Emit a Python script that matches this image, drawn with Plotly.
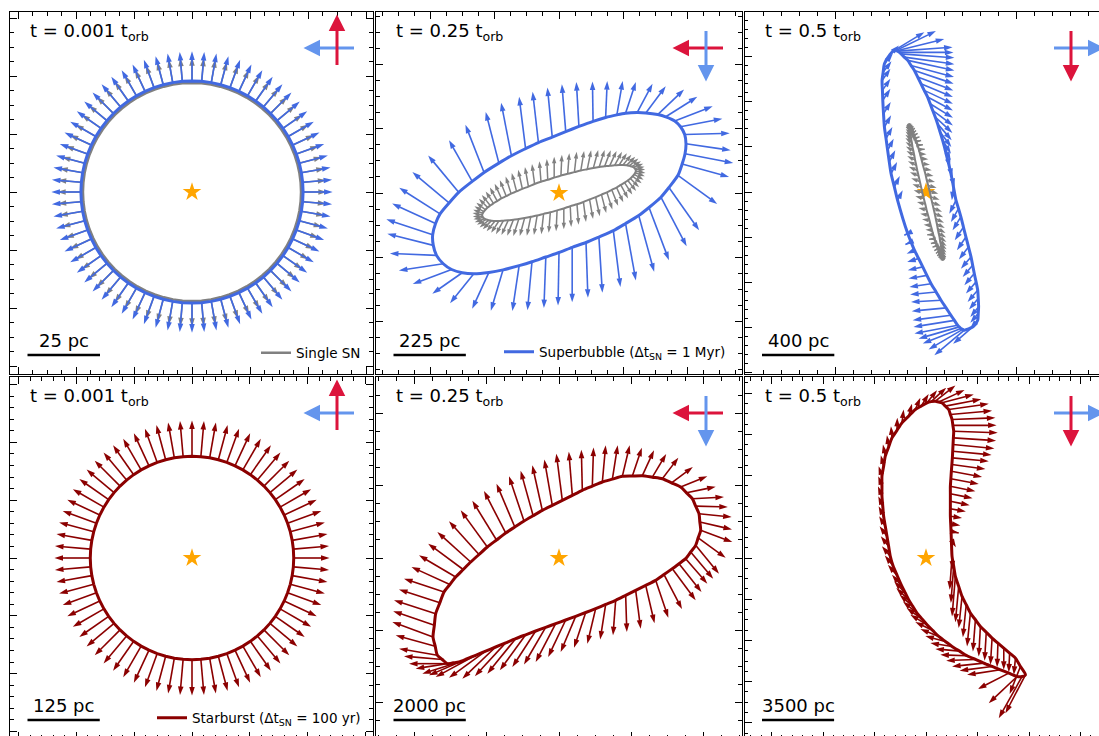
import numpy as np
import plotly.graph_objects as go

# ---------------- data (pc, origin at the star) ----------------
# t = 0.001 t_orb : rings are still circular, arrows purely radial
ring_arrow_count = 72
sb_early_radius, sb_early_tip = 38.3, 48.5      # superbubble (top row)
sn_early_radius, sn_early_tip = 37.6, 46.5      # single SN (top row)
st_early_radius, st_early_tip = 176.0, 238.0    # starburst (bottom row)

# t = 0.25 t_orb, superbubble: shell points and arrow tips
sb_mid_x = [395, 391, 378, 360, 332, 307, 270, 243, 207, 180, 145, 106, 62, 21, -21, -64,
            -104, -148, -187, -233, -270, -312, -342, -370, -384, -393, -391, -381, -360,
            -334, -301, -265, -218, -174, -124, -84, -41, 0, 41, 84, 124, 169, 207, 248,
            280, 317, 342, 370, 383, 392]
sb_mid_y = [153, 182, 206, 224, 237, 244, 249, 250, 248, 243, 235, 223, 207, 191, 174, 157,
            138, 116, 93, 64, 36, 2, -31, -65, -95, -130, -163, -194, -220, -238, -248,
            -251, -247, -239, -226, -214, -199, -185, -169, -154, -137, -117, -95, -70, -45,
            -13, 17, 55, 90, 122]
sb_mid_tx = [534, 531, 508, 478, 430, 389, 332, 291, 239, 198, 150, 104, 54, 9, -36, -82,
             -124, -180, -228, -291, -342, -407, -456, -497, -519, -537, -534, -526, -498,
             -455, -394, -339, -270, -212, -145, -98, -47, -3, 41, 90, 135, 191, 239, 296,
             342, 397, 436, 492, 529, 542]
sb_mid_ty = [133, 186, 231, 270, 299, 322, 332, 340, 345, 348, 348, 347, 345, 338, 328, 315,
             299, 281, 252, 212, 164, 117, 65, 16, -33, -82, -127, -188, -241, -283, -313,
             -343, -360, -366, -367, -365, -358, -350, -340, -326, -310, -292, -272, -245,
             -209, -166, -116, -34, 50, 93]

# t = 0.25 t_orb, single SN
sn_mid_x = [238, 236, 232, 226, 219, 210, 199, 187, 173, 158, 142, 125, 107, 88, 68, 48, 27,
            6, -15, -35, -56, -76, -95, -114, -132, -149, -164, -179, -192, -204, -214,
            -222, -229, -234, -237, -239, -238, -236, -232, -226, -219, -210, -199, -187,
            -173, -158, -142, -125, -107, -88, -68, -48, -27, -6, 15, 35, 56, 76, 95, 114,
            132, 149, 164, 179, 192, 204, 214, 222, 229, 234, 237, 239]
sn_mid_y = [73, 76, 80, 82, 85, 86, 87, 87, 86, 85, 83, 81, 78, 74, 70, 65, 60, 54, 48, 41,
            35, 28, 20, 13, 5, -2, -10, -17, -25, -32, -39, -45, -52, -58, -63, -68, -73,
            -76, -80, -82, -85, -86, -87, -87, -86, -85, -83, -81, -78, -74, -70, -65, -60,
            -54, -48, -41, -35, -28, -20, -13, -5, 2, 10, 17, 25, 32, 39, 45, 52, 58, 63, 68]
sn_mid_tx = [268, 266, 262, 255, 247, 237, 225, 211, 196, 179, 161, 142, 122, 100, 78, 55,
             32, 9, -15, -38, -61, -84, -106, -127, -147, -166, -184, -200, -215, -228, -240,
             -249, -257, -263, -267, -269, -268, -266, -262, -255, -247, -237, -225, -211,
             -196, -179, -161, -142, -122, -100, -78, -55, -32, -9, 15, 38, 61, 84, 106, 127,
             147, 166, 184, 200, 215, 228, 240, 249, 257, 263, 267, 269]
sn_mid_ty = [73, 82, 91, 99, 107, 113, 119, 124, 128, 131, 133, 134, 134, 133, 131, 128, 124,
             119, 113, 106, 99, 90, 81, 72, 62, 51, 40, 29, 17, 5, -6, -18, -30, -41, -52,
             -62, -73, -82, -91, -99, -107, -113, -119, -124, -128, -131, -133, -134, -134,
             -133, -131, -128, -124, -119, -113, -106, -99, -90, -81, -72, -62, -51, -40,
             -29, -17, -5, 6, 18, 30, 41, 52, 62]

# t = 0.5 t_orb, superbubble
sb_late_x = [-175, -166, -161, -157, -147, -138, -120, -101, -83, -64, -46, -28, -10, 9, 23,
             37, 51, 64, 78, 92, 102, 111, 125, 138, 152, 166, 180, 193, 207, 221, 235, 249,
             258, 267, 277, 286, 289, 291, 289, 286, 260, 212, 203, 193, 184, 175, 157, 138,
             111, 83, 56, 28, 5, -18, -41, -64, -83, -101, -157, -175, -193, -203, -212,
             -221, -230, -235, -239, -241, -243, -237, -230, -200]
sb_late_y = [783, 783, 781, 779, 772, 764, 746, 728, 700, 672, 636, 599, 562, 525, 488, 451,
             415, 378, 332, 286, 249, 212, 157, 101, 28, -46, -92, -138, -194, -249, -304,
             -359, -405, -451, -497, -543, -589, -635, -672, -709, -745, -764, -760, -755,
             -746, -737, -710, -682, -641, -599, -553, -507, -461, -414, -368, -322, -276,
             -230, -46, 28, 101, 166, 230, 295, 359, 433, 507, 562, 617, 663, 709, 760]
sb_late_tx = [-9, 55, 101, 147, 152, 157, 157, 157, 155, 153, 151, 149, 149, 149, 149, 149,
              146, 142, 140, 138, 136, 134, 146, 157, 143, 129, 138, 147, 159, 171, 182, 193,
              203, 212, 221, 230, 238, 245, 245, 245, 150, 46, 14, -18, -41, -64, -69, -74,
              -79, -83, -88, -92, -97, -101, -104, -107, -114, -120, -129, -145, -160, -170,
              -179, -186, -193, -195, -197, -197, -197, -191, -184, -150]
sb_late_ty = [884, 890, 846, 801, 772, 742, 707, 672, 636, 599, 562, 525, 488, 451, 410, 368,
              327, 286, 249, 212, 175, 138, 83, 28, -46, -120, -166, -212, -267, -322, -373,
              -424, -470, -516, -562, -608, -650, -691, -723, -755, -840, -903, -871, -838,
              -811, -783, -746, -709, -659, -608, -567, -525, -479, -433, -387, -341, -290,
              -239, 9, 88, 166, 231, 295, 360, 424, 498, 571, 627, 682, 723, 764, 810]

# t = 0.5 t_orb, single SN
sn_late_x = [-86, -84, -81, -78, -74, -70, -65, -59, -53, -47, -40, -33, -26, -19, -11, -3,
             4, 12, 20, 27, 34, 41, 48, 54, 60, 65, 70, 75, 78, 82, 84, 86, 87, 88, 88, 87,
             86, 84, 81, 78, 74, 70, 65, 59, 53, 47, 40, 33, 26, 19, 11, 3, -4, -12, -20,
             -27, -34, -41, -48, -54, -60, -65, -70, -75, -78, -82, -84, -86, -87, -88, -88,
             -87]
sn_late_y = [360, 359, 355, 349, 340, 328, 314, 297, 279, 258, 235, 210, 184, 156, 127, 98,
             67, 36, 5, -27, -58, -89, -119, -148, -176, -203, -228, -251, -273, -292, -310,
             -324, -337, -347, -354, -358, -360, -359, -355, -349, -340, -328, -314, -297,
             -279, -258, -235, -210, -184, -156, -127, -98, -67, -36, -5, 27, 58, 89, 119,
             148, 176, 203, 228, 251, 273, 292, 310, 324, 337, 347, 354, 358]
sn_late_tx = [-92, -86, -79, -71, -63, -55, -46, -36, -27, -17, -7, 3, 13, 22, 32, 42, 50,
              59, 68, 75, 82, 89, 95, 100, 104, 108, 111, 113, 114, 114, 113, 112, 109, 106,
              102, 97, 92, 86, 79, 71, 63, 55, 46, 36, 27, 17, 7, -3, -13, -22, -32, -42,
              -50, -59, -68, -75, -82, -89, -95, -100, -104, -108, -111, -113, -114, -114,
              -113, -112, -109, -106, -102, -97]
sn_late_ty = [380, 378, 372, 364, 354, 340, 324, 305, 285, 261, 236, 209, 181, 151, 120, 89,
              56, 23, -10, -43, -76, -109, -140, -170, -199, -227, -252, -276, -298, -317,
              -335, -349, -361, -370, -376, -379, -380, -378, -372, -364, -354, -340, -324,
              -305, -285, -261, -236, -209, -181, -151, -120, -89, -56, -23, 10, 43, 76, 109,
              140, 170, 199, 227, 252, 276, 298, 317, 335, 349, 361, 370, 376, 379]

# t = 0.25 t_orb, starburst
st_mid_x = [-3485, -3448, -3411, -3296, -3181, -3020, -2858, -2650, -2443, -2213, -1982,
            -1729, -1475, -1222, -968, -715, -461, -185, 92, 369, 645, 922, 1199, 1476, 1752,
            2029, 2305, 2582, 2858, 3112, 3365, 3527, 3688, 3780, 3872, 3896, 3919, 3850,
            3780, 3642, 3504, 3320, 3135, 2905, 2674, 2398, 2121, 1844, 1567, 1291, 1014,
            738, 461, 185, -92, -369, -645, -922, -1199, -1476, -1752, -2029, -2305, -2536,
            -2766, -2928, -3089, -3227, -3365, -3425]
st_mid_y = [-2185, -1862, -1540, -1240, -940, -733, -526, -318, -111, 97, 304, 498, 692, 858,
            1023, 1171, 1318, 1457, 1595, 1734, 1872, 1987, 2102, 2181, 2259, 2268, 2277,
            2236, 2194, 2079, 1964, 1803, 1641, 1434, 1226, 996, 765, 558, 350, 166, -18,
            -157, -295, -457, -618, -756, -894, -1033, -1171, -1286, -1401, -1508, -1614,
            -1715, -1816, -1918, -2019, -2125, -2231, -2347, -2462, -2577, -2692, -2785,
            -2877, -2900, -2923, -2808, -2692, -2439]
st_mid_tx = [-4610, -4587, -4564, -4426, -4287, -4080, -3872, -3619, -3365, -3043, -2720,
             -2398, -2075, -1729, -1383, -1061, -738, -406, -74, 272, 618, 955, 1291, 1623,
             1955, 2292, 2628, 2965, 3301, 3702, 4103, 4334, 4564, 4670, 4776, 4785, 4794,
             4610, 4426, 4265, 4103, 3942, 3780, 3402, 3024, 2642, 2259, 1877, 1494, 1139,
             784, 415, 46, -300, -645, -968, -1291, -1637, -1982, -2328, -2674, -3043, -3411,
             -3596, -3780, -3965, -4149, -4288, -4426, -4518]
st_mid_ty = [-1770, -1470, -1171, -872, -572, -249, 74, 397, 719, 1019, 1318, 1586, 1853,
             2056, 2259, 2411, 2563, 2725, 2886, 2942, 2997, 3057, 3116, 3116, 3116, 3047,
             2978, 2877, 2775, 2517, 2259, 1973, 1687, 1411, 1134, 789, 443, 5, -433, -572,
             -710, -941, -1171, -1411, -1650, -1803, -1955, -2047, -2139, -2255, -2370, -2485,
             -2600, -2739, -2877, -2946, -3015, -3107, -3199, -3269, -3338, -3315, -3292,
             -3246, -3199, -3061, -2923, -2716, -2508, -2139]

# t = 0.5 t_orb, starburst
st_late_x = [454, 616, 778, 940, 1102, 1183, 1264, 1305, 1345, 1329, 1312, 1296, 1280, 1256,
             1231, 1207, 1183, 1183, 1183, 1183, 1183, 1199, 1215, 1230, 1245, 1264, 1345,
             1426, 1588, 1750, 1953, 2155, 2398, 2641, 2925, 3208, 3492, 3775, 4059, 4342,
             4585, 4828, 4666, 4423, 4018, 3613, 3208, 2803, 2398, 1993, 1629, 1264, 940, 616,
             333, 49, -194, -437, -640, -842, -1004, -1166, -1400, -1600, -1733, -1814, -1895,
             -1976, -2057, -2098, -2138, -2138, -2138, -2057, -1976, -1814, -1652, -1409,
             -1166, -842, -518, -235, 49, 250]
st_late_y = [7614, 7574, 7533, 7371, 7209, 6966, 6723, 6440, 6156, 5832, 5508, 5184, 4860,
             4536, 4212, 3848, 3483, 3119, 2754, 2390, 2025, 1661, 1296, 890, 480, 81, -405,
             -891, -1377, -1863, -2268, -2673, -2997, -3321, -3605, -3888, -4131, -4374,
             -4617, -4860, -5265, -5670, -5751, -5751, -5589, -5427, -5265, -5103, -4925,
             -4747, -4520, -4293, -4050, -3807, -3524, -3240, -2957, -2673, -2349, -2025,
             -1701, -1377, -850, -380, 81, 567, 1053, 1539, 2025, 2511, 2997, 3483, 3969,
             4455, 4941, 5387, 5832, 6197, 6561, 6885, 7209, 7371, 7533, 7590]
st_late_tx = [1426, 1872, 2317, 2682, 3046, 3208, 3370, 3427, 3483, 3402, 3321, 3184, 3046,
              2884, 2722, 2560, 2398, 2260, 2122, 1936, 1750, 1669, 1588, 1450, 1300, 1150,
              1207, 1264, 1426, 1588, 1791, 1993, 2277, 2560, 2844, 3127, 3451, 3775, 4018,
              4261, 4059, 3856, 3532, 3046, 2520, 1993, 1629, 1264, 981, 697, 454, 211, -32,
              -275, -518, -761, -940, -1118, -1280, -1442, -1547, -1652, -1850, -2000, -2138,
              -2195, -2252, -2276, -2300, -2317, -2333, -2317, -2300, -2195, -2090, -1896,
              -1701, -1393, -1085, -680, -275, 130, 535, 980]
st_late_ty = [8375, 8157, 7938, 7711, 7484, 7144, 6804, 6440, 6075, 5695, 5314, 5006, 4698,
              4318, 3937, 3589, 3240, 2900, 2560, 2252, 1944, 1580, 1215, 520, -560, -1539,
              -2187, -2835, -3119, -3402, -3848, -4293, -4536, -4779, -4982, -5184, -5306,
              -5427, -5549, -5670, -6602, -7533, -7776, -7047, -6359, -5670, -5468, -5265,
              -4982, -4698, -4415, -4131, -3791, -3451, -3103, -2754, -2430, -2106, -1782,
              -1458, -1134, -810, -330, 120, 567, 1053, 1539, 2025, 2511, 2997, 3483, 3969,
              4455, 4982, 5508, 5954, 6399, 6804, 7209, 7493, 7776, 7963, 8149, 8270]

time_labels = ["0.001", "0.25", "0.5", "0.001", "0.25", "0.5"]
scale_bars_pc = [25, 225, 400, 125, 2000, 3500]

# ---------------- styling / layout geometry ----------------
BLUE, GRAY, RED = "royalblue", "gray", "darkred"
CRIMSON, CORN = "crimson", "cornflowerblue"
FONT = "DejaVu Sans"
W, H = 1108, 740
COLS = [(10, 373), (376, 742), (744.5, 1107)]
ROWS = [(12, 374), (377, 739)]
STAR_PX = [[(192, 192), (559, 193), (926, 192)], [(192, 558), (559, 558), (926, 558)]]
PX_PER_PC = [[2.9, 0.3215, 0.1808], [0.578, 0.03615, 0.0206]]
TICKS = [[((20, 5), (20, 5)), ((200, 50), (200, 50)), ((500, 100), (250, 50))],
         [((100, 20), (100, 20)), ((2000, 500), (2000, 500)), ((2500, 500), (2000, 500))]]
# corner direction arrows: (direction, colour); the second one is drawn on top
CORNER = [[("left", CORN), ("up", CRIMSON)], [("left", CRIMSON), ("down", CORN)],
          [("right", CORN), ("down", CRIMSON)]]
DIRS = {"left": (-1, 0), "right": (1, 0), "up": (0, -1), "down": (0, 1)}


def ax_names(n):
    return ("x" if n == 1 else f"x{n}"), ("y" if n == 1 else f"y{n}")


def arrows(bx, by, tx, ty, color, n, width=1.6, head=9):
    xa, ya = ax_names(n)
    xs, ys, sz = [], [], []
    for a, b, c, d in zip(bx, by, tx, ty):
        xs += [a, c, None]
        ys += [b, d, None]
        sz += [0, head, 0]
    return go.Scatter(x=xs, y=ys, mode="lines+markers", xaxis=xa, yaxis=ya, opacity=1,
                      line=dict(color=color, width=width),
                      marker=dict(symbol="arrow", angleref="previous", size=sz, color=color,
                                  opacity=1, line=dict(width=0)),
                      showlegend=False, hoverinfo="skip")


def outline(x, y, color, width, n, name=None, legend=None, smooth=True):
    xa, ya = ax_names(n)
    x = list(x) + [x[0]]
    y = list(y) + [y[0]]
    return go.Scatter(x=x, y=y, mode="lines", xaxis=xa, yaxis=ya,
                      line=dict(color=color, width=width,
                                shape="spline" if smooth else "linear", smoothing=0.7),
                      name=name, showlegend=name is not None, legend=legend,
                      hoverinfo="skip")


def ring(radius, tip):
    ang = np.deg2rad(np.arange(ring_arrow_count) * 360.0 / ring_arrow_count)
    return (radius * np.cos(ang), radius * np.sin(ang), tip * np.cos(ang), tip * np.sin(ang))


def star(n):
    xa, ya = ax_names(n)
    return go.Scatter(x=[0], y=[0], mode="markers", xaxis=xa, yaxis=ya,
                      marker=dict(symbol="star", size=14, color="orange", line=dict(width=0)),
                      showlegend=False, hoverinfo="skip")


fig = go.Figure()

# panel 1: t = 0.001, superbubble over single SN
fig.add_trace(star(1))
gx, gy, gtx, gty = ring(sn_early_radius, sn_early_tip)
fig.add_trace(arrows(gx, gy, gtx, gty, GRAY, 1))
fig.add_trace(outline(gx, gy, GRAY, 2.5, 1, name="Single SN", legend="legend", smooth=False))
bx, by, btx, bty = ring(sb_early_radius, sb_early_tip)
fig.add_trace(arrows(bx, by, btx, bty, BLUE, 1))
fig.add_trace(outline(bx, by, BLUE, 3, 1, smooth=False))

# panel 2: t = 0.25
fig.add_trace(star(2))
fig.add_trace(arrows(sn_mid_x, sn_mid_y, sn_mid_tx, sn_mid_ty, GRAY, 2, width=1.5, head=7))
fig.add_trace(outline(sn_mid_x, sn_mid_y, GRAY, 2, 2))
fig.add_trace(arrows(sb_mid_x, sb_mid_y, sb_mid_tx, sb_mid_ty, BLUE, 2))
fig.add_trace(outline(sb_mid_x, sb_mid_y, BLUE, 3, 2,
                      name="Superbubble (Δt<sub>SN</sub> = 1 Myr)", legend="legend2"))

# panel 3: t = 0.5
fig.add_trace(star(3))
fig.add_trace(arrows(sn_late_x, sn_late_y, sn_late_tx, sn_late_ty, GRAY, 3, width=1.5, head=7))
fig.add_trace(outline(sn_late_x, sn_late_y, GRAY, 2, 3))
fig.add_trace(arrows(sb_late_x, sb_late_y, sb_late_tx, sb_late_ty, BLUE, 3))
fig.add_trace(outline(sb_late_x, sb_late_y, BLUE, 3, 3))

# panel 4: starburst, t = 0.001
fig.add_trace(star(4))
rx, ry, rtx, rty = ring(st_early_radius, st_early_tip)
fig.add_trace(arrows(rx, ry, rtx, rty, RED, 4))
fig.add_trace(outline(rx, ry, RED, 3, 4, name="Starburst (Δt<sub>SN</sub> = 100 yr)",
                      legend="legend3", smooth=False))

# panel 5: starburst, t = 0.25
fig.add_trace(star(5))
fig.add_trace(arrows(st_mid_x, st_mid_y, st_mid_tx, st_mid_ty, RED, 5))
fig.add_trace(outline(st_mid_x, st_mid_y, RED, 3, 5))

# panel 6: starburst, t = 0.5
fig.add_trace(star(6))
fig.add_trace(arrows(st_late_x, st_late_y, st_late_tx, st_late_ty, RED, 6))
fig.add_trace(outline(st_late_x, st_late_y, RED, 3, 6))

layout = dict(width=W, height=H, margin=dict(l=0, r=0, t=0, b=0), plot_bgcolor="white",
              paper_bgcolor="white", hovermode=False, font=dict(family=FONT, color="black"))
annotations, shapes = [], []


def px(x):
    return x / W


def py(y):
    return 1 - y / H


for r in range(2):
    for c in range(3):
        n = r * 3 + c + 1
        x0, x1 = COLS[c]
        y0, y1 = ROWS[r]
        sx, sy = STAR_PX[r][c]
        p = PX_PER_PC[r][c]
        (xd, xm), (yd, ym) = TICKS[r][c]
        xk = "xaxis" if n == 1 else f"xaxis{n}"
        yk = "yaxis" if n == 1 else f"yaxis{n}"
        xa, ya = ax_names(n)
        common = dict(showgrid=False, zeroline=False, showticklabels=False, ticks="inside",
                      ticklen=7, tickwidth=1, tickcolor="black", showline=True,
                      linecolor="black", linewidth=1.2, mirror="ticks", tick0=0,
                      fixedrange=True)
        layout[xk] = dict(common, domain=[px(x0), px(x1)], anchor=ya,
                          range=[(x0 - sx) / p, (x1 - sx) / p], dtick=xd,
                          minor=dict(dtick=xm, tick0=0, ticks="inside", ticklen=3.5,
                                     tickwidth=1, tickcolor="black", showgrid=False))
        layout[yk] = dict(common, domain=[py(y1), py(y0)], anchor=xa,
                          range=[(sy - y1) / p, (sy - y0) / p], dtick=yd,
                          minor=dict(dtick=ym, tick0=0, ticks="inside", ticklen=3.5,
                                     tickwidth=1, tickcolor="black", showgrid=False))

        # time label
        annotations.append(dict(xref="paper", yref="paper", x=px(x0 + 18), y=py(y0 + 20),
                                xanchor="left", yanchor="middle", showarrow=False,
                                text=f"t = {time_labels[n - 1]} t<sub>orb</sub>",
                                font=dict(size=18, family=FONT)))

        # scale bar, length in pc
        bar0 = (x0 + 17.5 - sx) / p
        bar1 = bar0 + scale_bars_pc[n - 1]
        ybar = (sy - (y1 - 19)) / p
        shapes.append(dict(type="line", xref=xa, yref=ya, x0=bar0, x1=bar1, y0=ybar, y1=ybar,
                           line=dict(color="black", width=2.5)))
        annotations.append(dict(xref=xa, yref=ya, x=(bar0 + bar1) / 2, y=ybar,
                                yshift=2, xanchor="center", yanchor="bottom",
                                showarrow=False, text=f"{scale_bars_pc[n - 1]} pc",
                                font=dict(size=18, family=FONT)))

        # direction indicator in the upper-right corner (pixel offsets from its centre)
        cx, cy = x1 - 36, y0 + 36
        for d, col in CORNER[c]:
            ux, uy = DIRS[d]
            tip_px = (cx + 33.5 * ux, cy + 33.5 * uy)
            annotations.append(dict(xref="paper", yref="paper", x=px(tip_px[0]),
                                    y=py(tip_px[1]), ax=-52 * ux, ay=-52 * uy,
                                    axref="pixel", ayref="pixel", showarrow=True,
                                    arrowhead=2, arrowsize=1.1, arrowwidth=3,
                                    arrowcolor=col, text=""))

legend_common = dict(bgcolor="rgba(0,0,0,0)", borderwidth=0, itemwidth=30,
                     font=dict(size=13.5, family=FONT), xanchor="right", yanchor="middle",
                     tracegroupgap=0)
layout["legend"] = dict(legend_common, x=px(366), y=py(353))
layout["legend2"] = dict(legend_common, x=px(731), y=py(352))
layout["legend3"] = dict(legend_common, x=px(366), y=py(718))
layout["annotations"] = annotations
layout["shapes"] = shapes
fig.update_layout(**layout)

fig.write_html("out.html", config={"displayModeBar": False},
               post_script="document.body.style.margin='0';document.body.style.overflow='hidden';")
